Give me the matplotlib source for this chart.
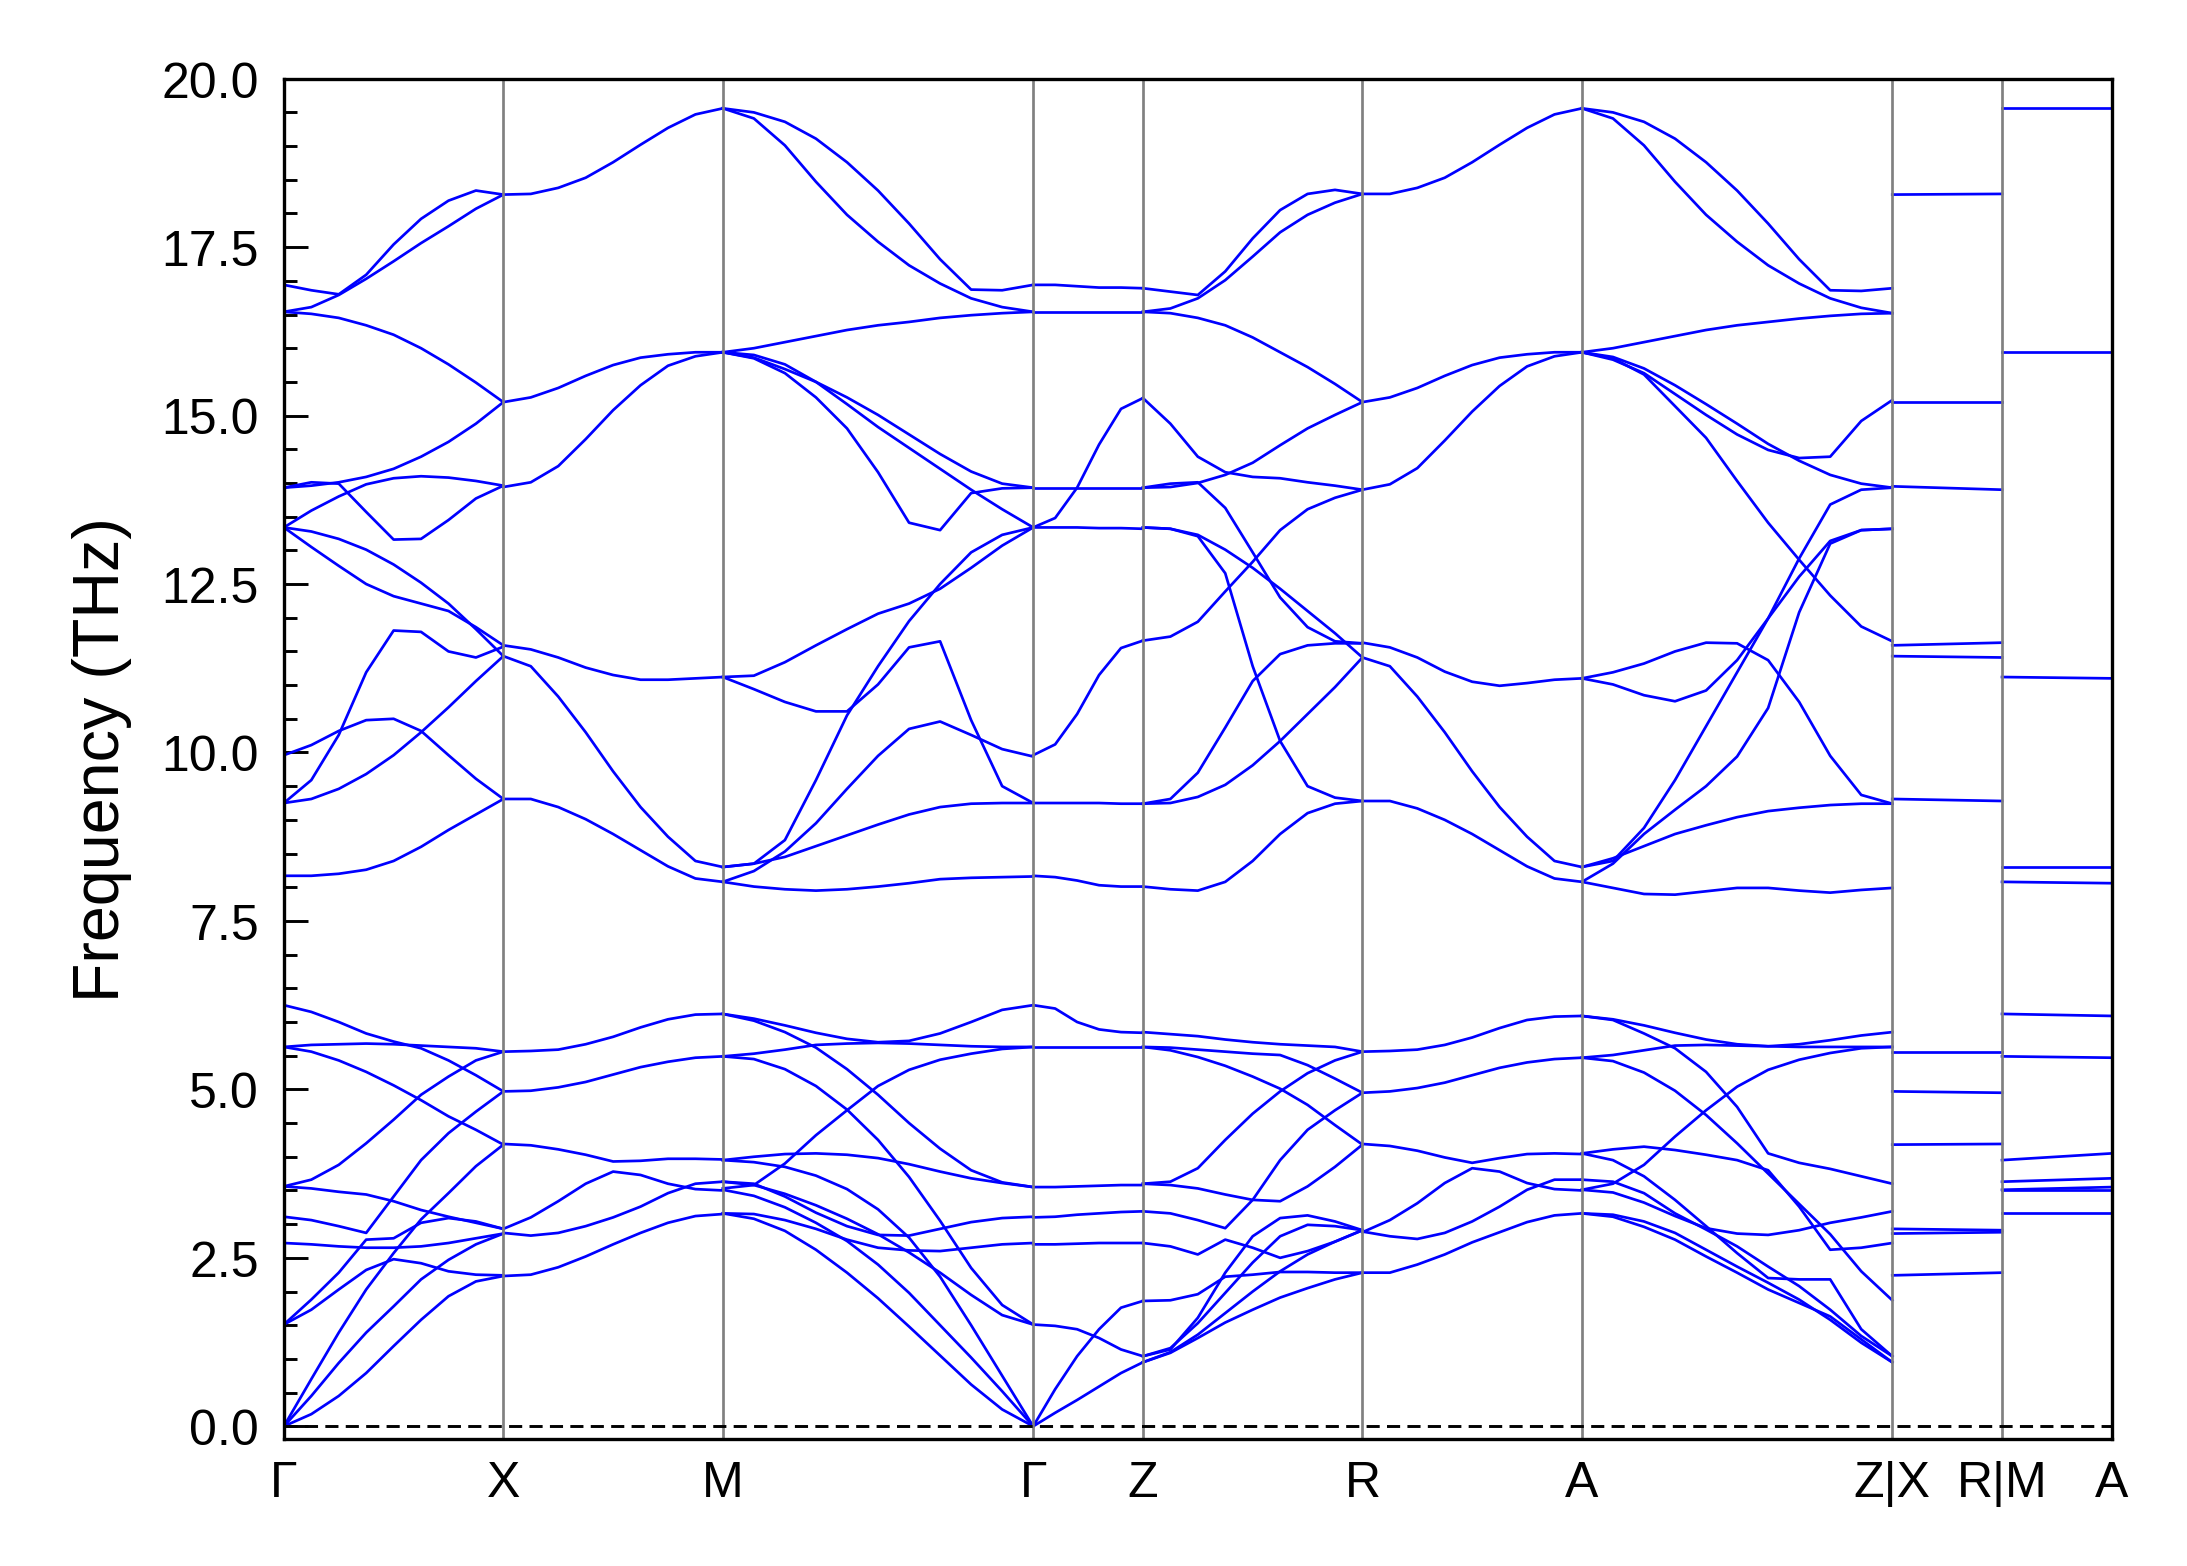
import numpy as np
import matplotlib.pyplot as plt

plt.rcParams['font.family'] = ['Liberation Sans', 'DejaVu Sans']

# high-symmetry points along the path (reciprocal distance, arb. units)
node_x = [0.0, 1.0, 2.0, 3.414, 3.914, 4.914, 5.914, 7.328, 7.828, 8.328]
node_labels = ['Γ', 'X', 'M', 'Γ', 'Z', 'R', 'A', 'Z|X', 'R|M', 'A']

# fractional positions along a segment where the bands were read
t9 = [0, 0.125, 0.25, 0.375, 0.5, 0.625, 0.75, 0.875, 1]
t11 = [0, 0.1, 0.2, 0.3, 0.4, 0.5, 0.6, 0.7, 0.8, 0.9, 1]
t6 = [0, 0.2, 0.4, 0.6, 0.8, 1]
t2 = [0, 1]

# frequencies (THz) per segment, one row per branch
gx = [
    [16.94, 16.86, 16.80, 17.09, 17.54, 17.92, 18.19, 18.34, 18.28],
    [16.54, 16.61, 16.79, 17.03, 17.29, 17.56, 17.81, 18.07, 18.28],
    [16.54, 16.51, 16.45, 16.34, 16.20, 16.00, 15.76, 15.49, 15.20],
    [13.93, 13.96, 14.01, 14.09, 14.21, 14.39, 14.61, 14.88, 15.20],
    [13.93, 14.01, 13.99, 13.57, 13.16, 13.17, 13.45, 13.77, 13.96],
    [13.34, 13.59, 13.80, 13.98, 14.07, 14.10, 14.08, 14.03, 13.96],
    [13.34, 13.28, 13.17, 13.01, 12.79, 12.52, 12.21, 11.83, 11.43],
    [13.34, 13.05, 12.77, 12.50, 12.32, 12.21, 12.10, 11.86, 11.59],
    [9.25, 9.59, 10.26, 11.19, 11.81, 11.79, 11.50, 11.41, 11.57],
    [9.96, 10.11, 10.32, 10.48, 10.50, 10.32, 9.96, 9.61, 9.31],
    [9.25, 9.31, 9.46, 9.68, 9.96, 10.30, 10.67, 11.06, 11.43],
    [8.17, 8.17, 8.20, 8.26, 8.39, 8.60, 8.85, 9.08, 9.31],
    [6.25, 6.15, 6.00, 5.83, 5.71, 5.61, 5.43, 5.21, 4.97],
    [5.63, 5.66, 5.67, 5.68, 5.67, 5.65, 5.63, 5.61, 5.56],
    [5.63, 5.56, 5.43, 5.26, 5.06, 4.84, 4.60, 4.40, 4.18],
    [3.56, 3.66, 3.88, 4.20, 4.55, 4.92, 5.19, 5.43, 5.56],
    [3.56, 3.53, 3.48, 3.44, 3.34, 3.21, 3.11, 3.02, 2.93],
    [3.11, 3.06, 2.97, 2.87, 3.41, 3.95, 4.35, 4.67, 4.97],
    [1.51, 1.88, 2.28, 2.77, 2.79, 3.02, 3.09, 3.04, 2.93],
    [1.51, 1.73, 2.03, 2.32, 2.48, 2.42, 2.30, 2.25, 2.24],
    [2.72, 2.70, 2.67, 2.65, 2.65, 2.67, 2.72, 2.79, 2.86],
    [0.00, 0.18, 0.45, 0.79, 1.19, 1.58, 1.93, 2.15, 2.23],
    [0.00, 0.45, 0.94, 1.39, 1.78, 2.18, 2.47, 2.70, 2.86],
    [0.00, 0.70, 1.39, 2.03, 2.57, 3.07, 3.46, 3.86, 4.18],
]

xm = [
    [18.28, 18.29, 18.38, 18.53, 18.76, 19.02, 19.27, 19.47, 19.56],
    [15.20, 15.27, 15.41, 15.59, 15.75, 15.86, 15.91, 15.94, 15.94],
    [13.94, 14.01, 14.25, 14.65, 15.08, 15.45, 15.74, 15.88, 15.94],
    [11.59, 11.53, 11.41, 11.26, 11.15, 11.08, 11.08, 11.10, 11.12],
    [11.43, 11.28, 10.83, 10.30, 9.72, 9.19, 8.75, 8.39, 8.30],
    [9.31, 9.31, 9.19, 9.01, 8.79, 8.55, 8.31, 8.13, 8.08],
    [5.56, 5.57, 5.59, 5.67, 5.78, 5.92, 6.04, 6.11, 6.12],
    [4.97, 4.98, 5.03, 5.11, 5.22, 5.33, 5.41, 5.47, 5.49],
    [4.19, 4.17, 4.11, 4.03, 3.93, 3.94, 3.97, 3.97, 3.96],
    [2.93, 3.10, 3.34, 3.60, 3.78, 3.73, 3.60, 3.52, 3.50],
    [2.87, 2.83, 2.87, 2.97, 3.10, 3.26, 3.46, 3.60, 3.63],
    [2.23, 2.25, 2.36, 2.52, 2.70, 2.87, 3.02, 3.12, 3.15],
]

mg = [
    [19.56, 19.50, 19.36, 19.11, 18.76, 18.34, 17.85, 17.32, 16.87, 16.86, 16.94],
    [19.56, 19.41, 19.01, 18.47, 17.98, 17.58, 17.23, 16.96, 16.74, 16.61, 16.54],
    [15.94, 16.00, 16.09, 16.18, 16.27, 16.34, 16.39, 16.45, 16.49, 16.52, 16.54],
    [15.94, 15.85, 15.63, 15.27, 14.81, 14.16, 13.41, 13.30, 13.85, 13.92, 13.93],
    [15.94, 15.86, 15.69, 15.50, 15.27, 15.01, 14.72, 14.43, 14.17, 13.99, 13.93],
    [15.94, 15.90, 15.76, 15.50, 15.17, 14.83, 14.52, 14.21, 13.90, 13.61, 13.34],
    [11.12, 11.14, 11.34, 11.59, 11.83, 12.06, 12.21, 12.43, 12.74, 13.07, 13.34],
    [8.30, 8.35, 8.70, 9.59, 10.55, 11.28, 11.95, 12.50, 12.97, 13.23, 13.34],
    [11.12, 10.94, 10.75, 10.61, 10.61, 11.01, 11.56, 11.65, 10.48, 9.50, 9.25],
    [8.08, 8.24, 8.53, 8.95, 9.46, 9.95, 10.35, 10.46, 10.26, 10.05, 9.94],
    [8.30, 8.35, 8.45, 8.61, 8.77, 8.93, 9.08, 9.19, 9.24, 9.25, 9.25],
    [8.08, 8.01, 7.97, 7.95, 7.97, 8.01, 8.06, 8.12, 8.14, 8.15, 8.16],
    [6.12, 6.05, 5.95, 5.84, 5.75, 5.70, 5.72, 5.83, 6.00, 6.18, 6.25],
    [5.49, 5.53, 5.59, 5.66, 5.68, 5.69, 5.68, 5.66, 5.64, 5.63, 5.63],
    [6.12, 6.02, 5.85, 5.62, 5.30, 4.92, 4.50, 4.12, 3.80, 3.62, 3.55],
    [5.49, 5.45, 5.30, 5.05, 4.70, 4.25, 3.70, 3.05, 2.35, 1.80, 1.51],
    [3.53, 3.58, 3.90, 4.32, 4.69, 5.05, 5.29, 5.44, 5.53, 5.60, 5.63],
    [3.95, 4.00, 4.04, 4.05, 4.03, 3.98, 3.89, 3.78, 3.68, 3.61, 3.55],
    [3.63, 3.60, 3.41, 3.17, 2.97, 2.84, 2.83, 2.93, 3.03, 3.09, 3.11],
    [3.16, 3.15, 3.06, 2.93, 2.77, 2.65, 2.61, 2.60, 2.65, 2.70, 2.72],
    [3.51, 3.42, 3.25, 3.02, 2.75, 2.40, 1.98, 1.50, 1.02, 0.52, 0.00],
    [3.16, 3.08, 2.90, 2.62, 2.28, 1.90, 1.48, 1.05, 0.62, 0.25, 0.00],
    [3.95, 3.92, 3.85, 3.72, 3.52, 3.22, 2.80, 2.22, 1.50, 0.75, 0.00],
    [3.63, 3.58, 3.45, 3.28, 3.08, 2.85, 2.58, 2.28, 1.95, 1.65, 1.51],
]

gz = [
    [16.94, 16.94, 16.92, 16.90, 16.90, 16.89],
    [16.54, 16.54, 16.54, 16.54, 16.54, 16.54],
    [13.34, 13.48, 13.93, 14.57, 15.10, 15.26],
    [13.93, 13.93, 13.93, 13.93, 13.93, 13.93],
    [13.34, 13.34, 13.34, 13.33, 13.33, 13.32],
    [9.96, 10.12, 10.57, 11.15, 11.55, 11.66],
    [9.25, 9.25, 9.25, 9.25, 9.24, 9.24],
    [8.17, 8.15, 8.10, 8.03, 8.01, 8.01],
    [6.25, 6.20, 6.00, 5.89, 5.85, 5.84],
    [5.63, 5.63, 5.63, 5.63, 5.63, 5.63],
    [3.55, 3.55, 3.56, 3.57, 3.58, 3.58],
    [3.10, 3.11, 3.14, 3.16, 3.18, 3.19],
    [2.70, 2.70, 2.71, 2.72, 2.72, 2.72],
    [1.51, 1.49, 1.44, 1.31, 1.14, 1.04],
    [0.00, 0.55, 1.04, 1.44, 1.76, 1.86],
    [0.00, 0.20, 0.39, 0.59, 0.79, 0.95],
]

zr = [
    [16.89, 16.84, 16.79, 17.14, 17.63, 18.05, 18.29, 18.35, 18.29],
    [16.54, 16.59, 16.74, 17.01, 17.36, 17.72, 17.98, 18.16, 18.29],
    [16.54, 16.52, 16.45, 16.34, 16.16, 15.94, 15.72, 15.47, 15.20],
    [15.26, 14.88, 14.39, 14.16, 14.09, 14.07, 14.01, 13.96, 13.90],
    [13.93, 13.94, 14.00, 14.12, 14.30, 14.56, 14.81, 15.01, 15.20],
    [13.93, 13.99, 14.01, 13.63, 12.97, 12.30, 11.86, 11.65, 11.62],
    [13.34, 13.32, 13.23, 13.01, 12.74, 12.43, 12.10, 11.77, 11.41],
    [13.34, 13.32, 13.21, 12.66, 11.28, 10.17, 9.50, 9.33, 9.28],
    [11.66, 11.72, 11.94, 12.39, 12.83, 13.30, 13.61, 13.78, 13.90],
    [9.24, 9.31, 9.70, 10.37, 11.06, 11.46, 11.59, 11.62, 11.62],
    [9.24, 9.25, 9.34, 9.52, 9.81, 10.17, 10.57, 10.97, 11.41],
    [8.01, 7.97, 7.95, 8.08, 8.39, 8.79, 9.10, 9.24, 9.28],
    [5.85, 5.82, 5.79, 5.74, 5.70, 5.67, 5.65, 5.63, 5.56],
    [5.63, 5.62, 5.59, 5.56, 5.53, 5.51, 5.36, 5.16, 4.95],
    [5.63, 5.58, 5.48, 5.35, 5.19, 5.01, 4.77, 4.47, 4.18],
    [3.60, 3.63, 3.83, 4.25, 4.64, 4.97, 5.24, 5.43, 5.56],
    [3.60, 3.58, 3.53, 3.44, 3.36, 3.34, 3.56, 3.85, 4.18],
    [3.19, 3.16, 3.06, 2.94, 3.36, 3.95, 4.40, 4.69, 4.95],
    [2.72, 2.67, 2.55, 2.77, 2.65, 2.50, 2.60, 2.74, 2.91],
    [1.86, 1.87, 1.96, 2.22, 2.25, 2.29, 2.29, 2.28, 2.28],
    [1.04, 1.14, 1.61, 2.28, 2.82, 3.09, 3.13, 3.04, 2.91],
    [1.04, 1.16, 1.53, 1.98, 2.43, 2.82, 2.99, 2.97, 2.91],
    [0.95, 1.09, 1.31, 1.54, 1.73, 1.91, 2.05, 2.18, 2.28],
    [0.95, 1.10, 1.36, 1.68, 2.00, 2.30, 2.55, 2.74, 2.91],
]

ra = [
    [18.29, 18.29, 18.38, 18.53, 18.76, 19.02, 19.27, 19.47, 19.56],
    [15.20, 15.27, 15.41, 15.59, 15.75, 15.86, 15.91, 15.94, 15.94],
    [13.90, 13.98, 14.22, 14.63, 15.06, 15.44, 15.73, 15.88, 15.94],
    [11.63, 11.56, 11.41, 11.20, 11.05, 10.99, 11.03, 11.08, 11.10],
    [11.41, 11.28, 10.83, 10.30, 9.72, 9.19, 8.75, 8.39, 8.30],
    [9.28, 9.28, 9.17, 9.00, 8.79, 8.55, 8.31, 8.13, 8.08],
    [5.56, 5.57, 5.59, 5.66, 5.77, 5.91, 6.03, 6.08, 6.09],
    [4.95, 4.97, 5.02, 5.10, 5.21, 5.32, 5.40, 5.45, 5.47],
    [4.19, 4.16, 4.09, 3.99, 3.91, 3.98, 4.04, 4.05, 4.04],
    [2.88, 3.06, 3.31, 3.61, 3.83, 3.78, 3.61, 3.52, 3.50],
    [2.89, 2.82, 2.78, 2.87, 3.04, 3.26, 3.51, 3.66, 3.66],
    [2.28, 2.28, 2.40, 2.55, 2.73, 2.88, 3.03, 3.13, 3.16],
]

az = [
    [19.56, 19.50, 19.36, 19.11, 18.76, 18.34, 17.85, 17.32, 16.86, 16.85, 16.89],
    [19.56, 19.41, 19.01, 18.47, 17.98, 17.58, 17.23, 16.96, 16.74, 16.60, 16.52],
    [15.94, 16.00, 16.09, 16.18, 16.27, 16.34, 16.39, 16.44, 16.48, 16.51, 16.52],
    [15.94, 15.83, 15.63, 15.32, 15.01, 14.72, 14.49, 14.37, 14.39, 14.92, 15.23],
    [15.94, 15.87, 15.70, 15.45, 15.17, 14.88, 14.58, 14.33, 14.12, 13.99, 13.93],
    [15.94, 15.85, 15.61, 15.14, 14.67, 14.03, 13.41, 12.86, 12.33, 11.87, 11.65],
    [8.30, 8.39, 8.88, 9.59, 10.39, 11.19, 11.99, 12.88, 13.68, 13.90, 13.93],
    [11.10, 11.01, 10.85, 10.76, 10.92, 11.37, 11.99, 12.61, 13.14, 13.30, 13.32],
    [8.08, 8.35, 8.79, 9.15, 9.50, 9.94, 10.66, 12.08, 13.10, 13.30, 13.32],
    [11.10, 11.19, 11.32, 11.50, 11.63, 11.62, 11.37, 10.75, 9.95, 9.37, 9.24],
    [8.30, 8.43, 8.61, 8.79, 8.92, 9.04, 9.13, 9.18, 9.22, 9.24, 9.24],
    [8.08, 7.99, 7.90, 7.89, 7.94, 7.99, 7.99, 7.95, 7.92, 7.96, 7.99],
    [6.09, 6.04, 5.95, 5.84, 5.74, 5.67, 5.64, 5.67, 5.73, 5.80, 5.85],
    [5.47, 5.51, 5.58, 5.65, 5.66, 5.65, 5.64, 5.63, 5.63, 5.63, 5.63],
    [6.09, 6.03, 5.83, 5.61, 5.26, 4.74, 4.05, 3.91, 3.82, 3.71, 3.60],
    [5.47, 5.42, 5.25, 4.98, 4.62, 4.20, 3.75, 3.30, 2.85, 2.30, 1.87],
    [3.51, 3.60, 3.88, 4.30, 4.69, 5.04, 5.29, 5.44, 5.54, 5.61, 5.63],
    [4.05, 4.11, 4.15, 4.10, 4.03, 3.95, 3.80, 3.26, 2.62, 2.65, 2.72],
    [3.51, 3.47, 3.32, 3.12, 2.94, 2.86, 2.84, 2.91, 3.02, 3.10, 3.19],
    [3.66, 3.63, 3.46, 3.16, 2.92, 2.67, 2.37, 2.08, 1.73, 1.34, 1.04],
    [3.16, 3.14, 3.04, 2.87, 2.62, 2.37, 2.13, 1.88, 1.58, 1.24, 0.95],
    [4.05, 3.95, 3.71, 3.36, 2.97, 2.57, 2.20, 2.18, 2.18, 1.44, 1.04],
    [3.16, 3.11, 2.96, 2.77, 2.52, 2.28, 2.03, 1.83, 1.63, 1.29, 0.95],
]

# the two short stand-alone segments are flat
xr = [[18.28, 18.29], [15.20, 15.20], [13.95, 13.90], [11.59, 11.63],
      [11.43, 11.41], [9.31, 9.28], [5.56, 5.56], [4.97, 4.95],
      [4.18, 4.19], [2.93, 2.91], [2.86, 2.88], [2.24, 2.28]]
ma = [[19.56, 19.56], [15.94, 15.94], [11.12, 11.10], [8.30, 8.30],
      [8.08, 8.06], [6.12, 6.09], [5.49, 5.47], [3.95, 4.05],
      [3.63, 3.68], [3.51, 3.55], [3.50, 3.50], [3.16, 3.16]]

segments = [
    (0, 1, t9, gx), (1, 2, t9, xm), (2, 3, t11, mg), (3, 4, t6, gz),
    (4, 5, t9, zr), (5, 6, t9, ra), (6, 7, t11, az), (7, 8, t2, xr),
    (8, 9, t2, ma),
]

fig, ax = plt.subplots(figsize=(7.29, 5.223), dpi=300)
fig.subplots_adjust(left=0.1298, right=0.9656, top=0.9492, bottom=0.081)

for i0, i1, tt, bands in segments:
    x = node_x[i0] + np.array(tt) * (node_x[i1] - node_x[i0])
    for b in bands:
        ax.plot(x, b, color='blue', lw=0.65)

for xv in node_x[1:-1]:
    ax.axvline(xv, color='gray', lw=0.65)
ax.axhline(0, color='black', lw=0.7, ls=(0, (4.5, 2.5)))

ax.set_xlim(node_x[0], node_x[-1])
ax.set_ylim(-0.19, 20)
ax.set_xticks(node_x)
ax.set_xticklabels(node_labels)
ax.tick_params(axis='x', length=0, pad=5, labelsize=12)
ax.set_yticks(np.arange(0, 20.01, 2.5))
ax.set_yticks(np.arange(0, 20.01, 0.5), minor=True)
ax.yaxis.set_major_formatter(plt.FormatStrFormatter('%.1f'))
ax.tick_params(axis='y', which='major', direction='in', length=5.8, width=0.7, pad=6, labelsize=12)
ax.tick_params(axis='y', which='minor', direction='in', length=3, width=0.7)
for s in ax.spines.values():
    s.set_linewidth(0.8)
ax.set_ylabel('Frequency (THz)', fontsize=15.5, labelpad=7)

fig.savefig('out.png', dpi=300)
